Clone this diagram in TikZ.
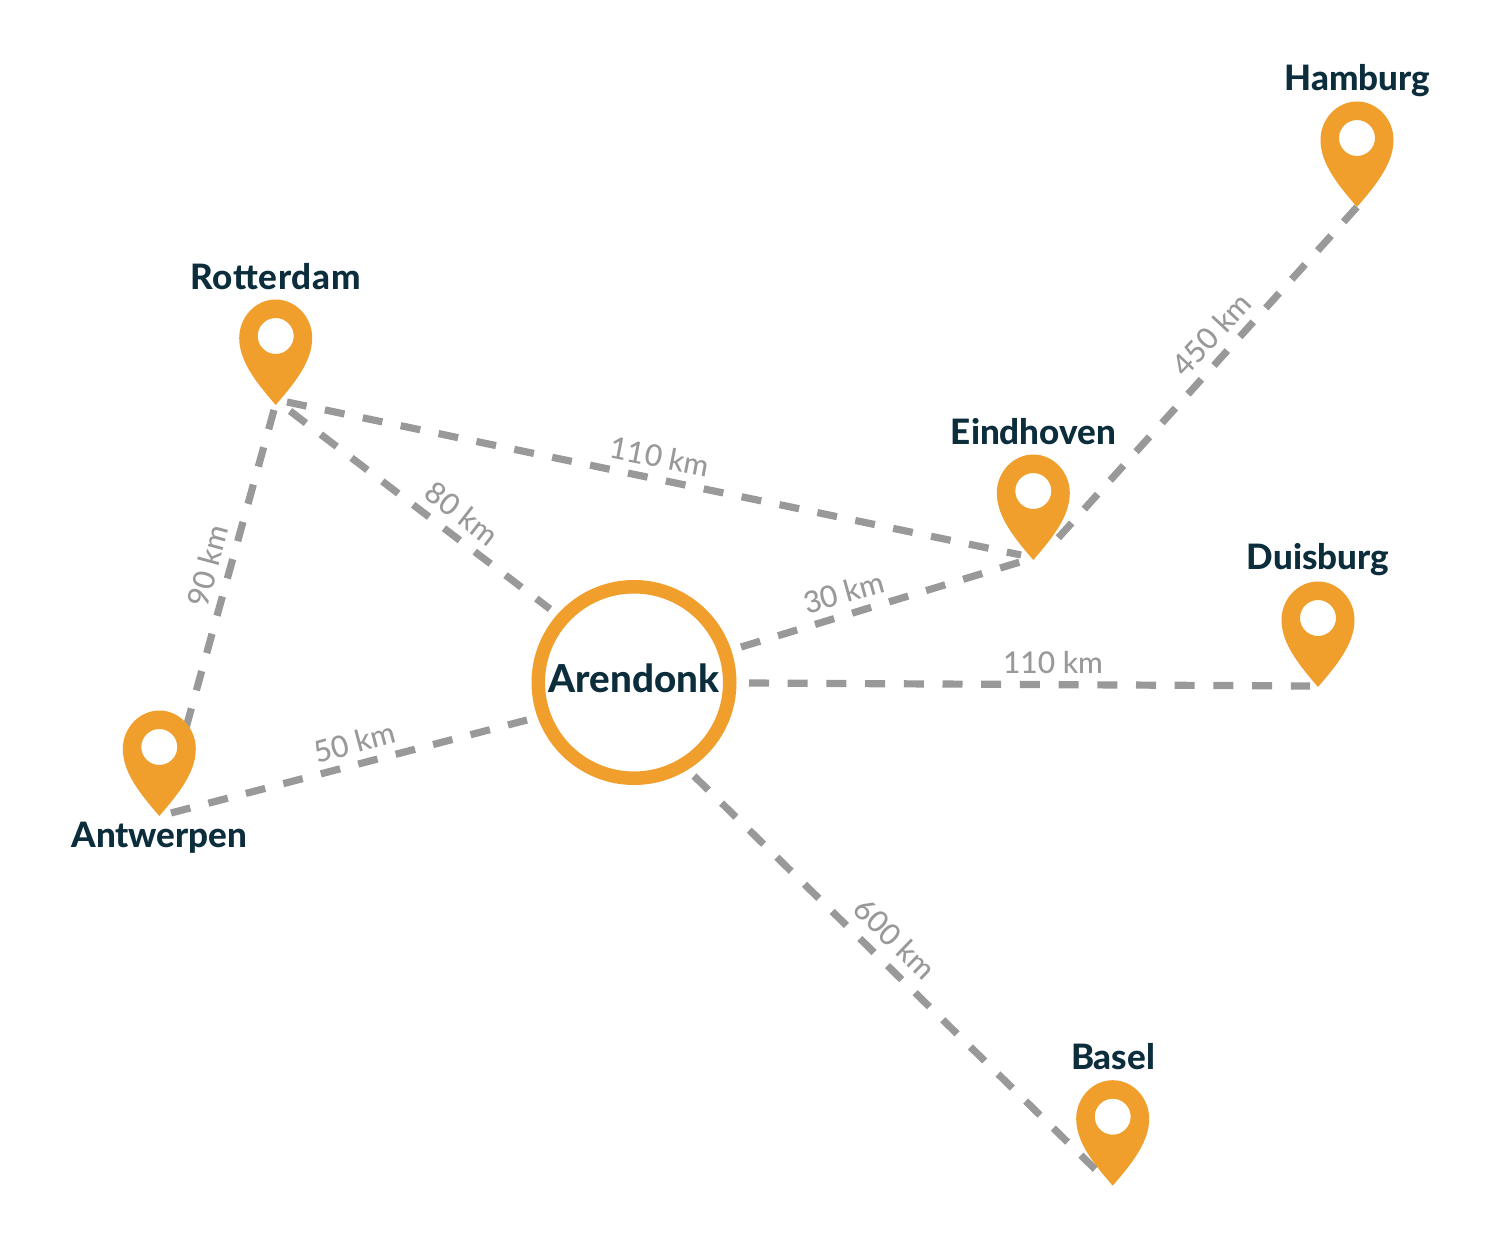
\documentclass[tikz,border=0pt]{standalone}
\usepackage{fontspec}
\setmainfont{Lato}
\newfontfamily\cityfont{Lato Heavy}
\newfontfamily\distfont{Lato Medium}
\definecolor{pinorange}{HTML}{F09E2C}
\definecolor{navy}{HTML}{0C2E3C}
\definecolor{roadgray}{HTML}{999999}
\tikzset{
  road/.style={draw=roadgray,line width=7.2pt,dash pattern=on 20pt off 18.7pt},
  city/.style={font=\cityfont\fontsize{35}{38}\selectfont,text=navy,inner sep=0pt,text height=24pt,text depth=7pt},
  dist/.style={font=\distfont\fontsize{30}{34}\selectfont,text=roadgray,inner sep=0pt,text height=22pt,text depth=1pt},
  pin/.pic={
    \fill[pinorange,even odd rule] (0,0) .. controls (-18,-21) and (-36.5,-43) .. (-36.5,-67)
      .. controls (-36.5,-88) and (-20,-105.5) .. (0,-105.5)
      .. controls (20,-105.5) and (36.5,-88) .. (36.5,-67)
      .. controls (36.5,-43) and (18,-21) .. (0,0) -- cycle
      (0,-69) circle[radius=18];
  }
}
\begin{document}
\begin{tikzpicture}[x=1pt,y=-1pt]
\useasboundingbox (0,0) rectangle (1500,1250);
\fill[white] (0,0) rectangle (1500,1250);
% connector ends
\coordinate (hamE) at (1357,207);
\coordinate (einE) at (1050,547);
\coordinate (rotA) at (287,402);
\coordinate (einA) at (1021,555);
\coordinate (rotB) at (290,411);
\coordinate (areB) at (550,609);
\coordinate (rotC) at (274,410);
\coordinate (antC) at (184,735);
\coordinate (antD) at (171,813);
\coordinate (areD) at (527,720);
\coordinate (areE) at (741,647);
\coordinate (einF) at (1020,562);
\coordinate (areG) at (749,683);
\coordinate (duiG) at (1310,686);
\coordinate (areH) at (694,776);
\coordinate (basH) at (1096,1170);
% connectors
\draw[road] (hamE) -- (einE);
\draw[road] (rotA) -- (einA);
\draw[road] (rotB) -- (areB);
\draw[road] (rotC) -- (antC);
\draw[road] (antD) -- (areD);
\draw[road] (areE) -- (einF);
\draw[road] (areG) -- (duiG);
\draw[road] (areH) -- (basH);
% centre
\node[circle,draw=pinorange,line width=13.5pt,fill=white,outer sep=0pt,minimum size=191.5pt,inner sep=0pt] (aren) at (634,682.5) {};
\node[city,font=\cityfont\fontsize{38.5}{42}\selectfont] (arenlabel) at (634,683.5) {Arendonk};
% pins
\pic (hamburg) at (1357,207) {pin};
\pic (rotterdam) at (275.7,405) {pin};
\pic (eindhoven) at (1033.3,560) {pin};
\pic (duisburg) at (1318,687) {pin};
\pic (basel) at (1112.7,1185.7) {pin};
\pic (antwerpen) at (159.3,816) {pin};
% city labels
\node[city] (lham) at (1357.5,82) {Hamburg};
\node[city] (lrot) at (275.5,281) {\addfontfeature{LetterSpace=2}Rotterdam};
\node[city] (lein) at (1033.5,436) {Eindhoven};
\node[city] (ldui) at (1318,561) {Duisburg};
\node[city] (lbas) at (1113,1061) {Basel};
\node[city] (lant) at (159.5,839) {Antwerpen};
% distances
\node[dist,rotate=47] (d1) at (1212,334.5) {450 km};
\node[dist,rotate=-11] (d2) at (660,457) {110 km};
\node[dist,rotate=-38] (d3) at (462,514) {80 km};
\node[dist,rotate=75] (d4) at (208.5,566) {90 km};
\node[dist,rotate=15.5] (d5) at (844,593) {30 km};
\node[dist] (d6) at (1053,663) {110 km};
\node[dist,rotate=15] (d7) at (355,743) {50 km};
\node[dist,rotate=-44] (d8) at (895,939) {600 km};
\end{tikzpicture}
\end{document}
